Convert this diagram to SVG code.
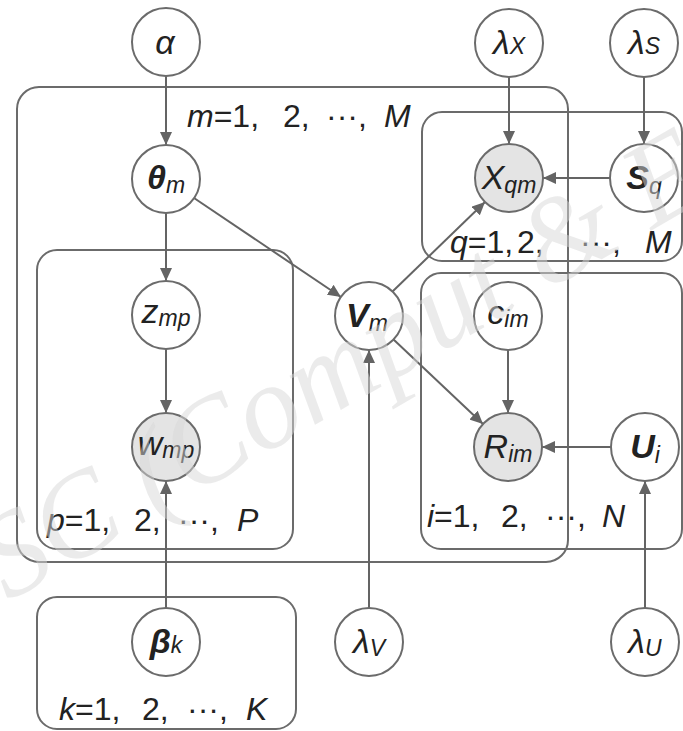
<svg xmlns="http://www.w3.org/2000/svg" width="683" height="731" viewBox="0 0 683 731">
<style>
.plate{fill:none;stroke:#6b6b6b;stroke-width:2}
.node{fill:#fff;stroke:#6b6b6b;stroke-width:2}
.obs{fill:#e4e4e4;stroke:#6b6b6b;stroke-width:2}
.edge{stroke:#646464;stroke-width:2;fill:none;marker-end:url(#ah)}
.lbl{font-family:"Liberation Sans",Arial,sans-serif;font-size:32px;fill:#222}
.nl{font-family:"Liberation Sans",Arial,sans-serif;font-size:34px;fill:#222;text-anchor:middle}
.it{font-style:italic}
.bd{font-weight:bold}
.sub{font-size:23px;font-style:italic;font-weight:normal}
.wm{font-family:"Liberation Serif","Times New Roman",serif;font-style:italic;font-size:120px;fill:#d8d8d8;fill-opacity:0.5}
</style>
<defs>
<marker id="ah" markerUnits="userSpaceOnUse" markerWidth="14" markerHeight="12" refX="13" refY="6" orient="auto">
<path d="M0,0 L13,6 L0,12 Z" fill="#646464"/>
</marker>
</defs>
<rect width="683" height="731" fill="#fff"/>

<g id="plates">
<rect id="plate-m" class="plate" x="17" y="87" width="551" height="475" rx="22"/>
<rect id="plate-q" class="plate" x="422" y="112" width="260" height="149" rx="20"/>
<rect id="plate-i" class="plate" x="421" y="273" width="261" height="276" rx="20"/>
<rect id="plate-p" class="plate" x="37" y="250" width="256" height="299" rx="20"/>
<rect id="plate-k" class="plate" x="37" y="597" width="259" height="132" rx="20"/>
<text class="lbl"><tspan class="it" x="187" y="127">m</tspan>=1,<tspan x="283">2,</tspan><tspan x="326">···,</tspan><tspan class="it" x="384">M</tspan></text>
<text class="lbl"><tspan class="it" x="450" y="253">q</tspan>=1,<tspan x="517">2,</tspan><tspan x="580">···,</tspan><tspan class="it" x="645">M</tspan></text>
<text class="lbl"><tspan class="it" x="47" y="531">p</tspan>=1,<tspan x="134">2,</tspan><tspan x="178">···,</tspan><tspan class="it" x="237">P</tspan></text>
<text class="lbl"><tspan class="it" x="427" y="527">i</tspan>=1,<tspan x="501">2,</tspan><tspan x="545">···,</tspan><tspan class="it" x="602">N</tspan></text>
<text class="lbl"><tspan class="it" x="59" y="720">k</tspan>=1,<tspan x="142">2,</tspan><tspan x="187">···,</tspan><tspan class="it" x="246">K</tspan></text>
</g>

<g id="connectors">
<line class="edge" x1="166" y1="76" x2="166" y2="145"/>
<line class="edge" x1="509" y1="77" x2="509" y2="144"/>
<line class="edge" x1="644" y1="77" x2="644" y2="144"/>
<line class="edge" x1="610" y1="178" x2="543" y2="178"/>
<line class="edge" x1="166" y1="213" x2="166" y2="281"/>
<line class="edge" x1="194" y1="198" x2="341" y2="297"/>
<line class="edge" x1="392" y1="292" x2="485" y2="202"/>
<line class="edge" x1="393" y1="339" x2="483" y2="424"/>
<line class="edge" x1="166" y1="349" x2="166" y2="413"/>
<line class="edge" x1="508" y1="350" x2="508" y2="413"/>
<line class="edge" x1="611" y1="447" x2="542" y2="447"/>
<line class="edge" x1="166" y1="608" x2="166" y2="481"/>
<line class="edge" x1="369" y1="608" x2="369" y2="350"/>
<line class="edge" x1="645" y1="608" x2="645" y2="481"/>
</g>

<g id="alpha"><circle class="node" cx="166" cy="42" r="34"/><text class="nl it" x="165" y="54">α</text></g>
<g id="lambdaX"><circle class="node" cx="509" cy="43" r="34"/><text class="nl it" x="509" y="54">λ<tspan class="sub">X</tspan></text></g>
<g id="lambdaS"><circle class="node" cx="644" cy="43" r="34"/><text class="nl it" x="644" y="54">λ<tspan class="sub">S</tspan></text></g>
<g id="theta"><circle class="node" cx="166" cy="179" r="34"/><text class="nl it bd" x="166" y="189">θ<tspan class="sub" dy="4">m</tspan></text></g>
<g id="X"><circle class="obs" cx="509" cy="178" r="34"/><text class="nl it" x="509" y="189">X<tspan class="sub" dy="4">qm</tspan></text></g>
<g id="S"><circle class="node" cx="644" cy="178" r="34"/><text class="nl it bd" x="644" y="189">S<tspan class="sub" dy="5">q</tspan></text></g>
<g id="z"><circle class="node" cx="166" cy="315" r="34"/><text class="nl it" x="166" y="323">z<tspan class="sub" dy="3">mp</tspan></text></g>
<g id="V"><circle class="node" cx="369" cy="316" r="34"/><text class="nl it bd" x="367" y="327">V<tspan class="sub" dy="4">m</tspan></text></g>
<g id="c"><circle class="node" cx="508" cy="316" r="34"/><text class="nl it" x="508" y="324">c<tspan class="sub" dy="3">im</tspan></text></g>
<g id="w"><circle class="obs" cx="166" cy="447" r="34"/><text class="nl it" x="166" y="455">w<tspan class="sub" dy="3">mp</tspan></text></g>
<g id="R"><circle class="obs" cx="508" cy="447" r="34"/><text class="nl it" x="508" y="458">R<tspan class="sub" dy="4">im</tspan></text></g>
<g id="U"><circle class="node" cx="645" cy="447" r="34"/><text class="nl it bd" x="645" y="458">U<tspan class="sub" dy="5">i</tspan></text></g>
<g id="beta"><circle class="node" cx="166" cy="642" r="34"/><text class="nl it bd" x="166" y="653">β<tspan class="sub">k</tspan></text></g>
<g id="lambdaV"><circle class="node" cx="369" cy="642" r="34"/><text class="nl it" x="369" y="653">λ<tspan class="sub" dy="3">V</tspan></text></g>
<g id="lambdaU"><circle class="node" cx="645" cy="642" r="34"/><text class="nl it" x="645" y="653">λ<tspan class="sub" dy="3">U</tspan></text></g>

<text class="wm" transform="translate(8,602) rotate(-30)">SC (Comput &amp; El</text>
</svg>
